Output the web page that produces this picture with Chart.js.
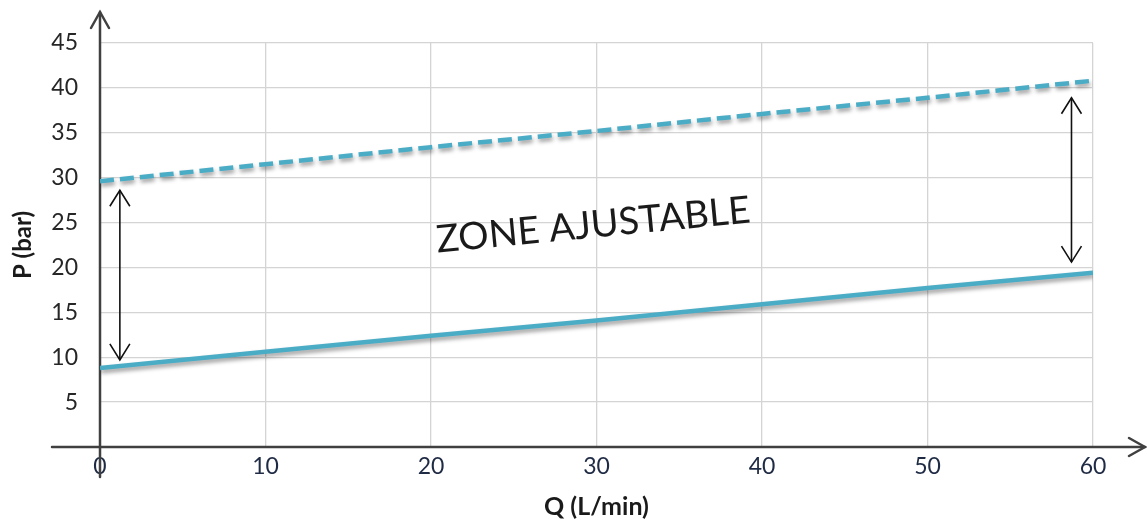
<!DOCTYPE html>
<html>
<head>
<meta charset="utf-8">
<script src="https://cdn.jsdelivr.net/npm/chart.js@4.4.0/dist/chart.umd.min.js"></script>
<style>
  html, body { margin: 0; padding: 0; background: #fff; }
  #wrap { width: 1147px; height: 522px; }
</style>
</head>
<body>
<div id="wrap"><canvas id="chart"></canvas></div>
<script>
// values
const flowValues = [0, 10, 20, 30, 40, 50, 60];
const minPressure = [8.8, 10.6, 12.4, 14.1, 15.9, 17.7, 19.4];
const maxPressure = [29.6, 31.5, 33.4, 35.2, 37.1, 38.9, 40.8];

// double arrows showing the adjustable range: [x, yBottom, yTop]
const rangeArrows = [[1.2, 9.7, 28.6], [58.7, 20.6, 38.9]];
const zoneLabel = "ZONE AJUSTABLE";
const zoneLabelPos = [29.8, 24.7];

const lineColor = "#4bacc6";
const axisColor = "#404040";
const fontFamily = "Lato, 'Open Sans', sans-serif";

function chevron(ctx, tx, ty, ax, ay, bx, by) {
    ctx.beginPath();
    ctx.moveTo(ax, ay);
    ctx.lineTo(tx, ty);
    ctx.lineTo(bx, by);
    ctx.stroke();
}

const axesPlugin = {
    id: "axesPlugin",
    beforeDatasetsDraw(chart) {
        const { ctx, scales: { x, y } } = chart;
        const x0 = x.getPixelForValue(0);
        const y0 = y.getPixelForValue(0);
        ctx.save();
        ctx.strokeStyle = axisColor;
        ctx.lineWidth = 2.5;
        ctx.lineCap = "round";
        // vertical axis, runs past the top with an arrow
        ctx.beginPath();
        ctx.moveTo(x0, y0 + 30);
        ctx.lineTo(x0, 12);
        ctx.stroke();
        chevron(ctx, x0, 12, x0 - 9, 28, x0 + 9, 28);
        // horizontal axis
        ctx.beginPath();
        ctx.moveTo(x0 - 48, y0);
        ctx.lineTo(chart.width - 2, y0);
        ctx.stroke();
        chevron(ctx, chart.width - 2, y0, chart.width - 18, y0 - 9, chart.width - 18, y0 + 9);
        ctx.restore();
    },
    beforeDatasetDraw(chart) {
        const ctx = chart.ctx;
        ctx.save();
        ctx.shadowColor = "rgba(0, 0, 0, 0.4)";
        ctx.shadowBlur = 4;
        ctx.shadowOffsetX = 1;
        ctx.shadowOffsetY = 3;
    },
    afterDatasetDraw(chart) {
        chart.ctx.restore();
    },
    afterDatasetsDraw(chart) {
        const { ctx, scales: { x, y } } = chart;
        ctx.save();
        ctx.strokeStyle = "#111";
        ctx.lineWidth = 1.6;
        rangeArrows.forEach(([ax, yb, yt]) => {
            const px = x.getPixelForValue(ax);
            const pb = y.getPixelForValue(yb);
            const pt = y.getPixelForValue(yt);
            ctx.beginPath();
            ctx.moveTo(px, pb);
            ctx.lineTo(px, pt);
            ctx.stroke();
            chevron(ctx, px, pt, px - 10, pt + 16, px + 10, pt + 16);
            chevron(ctx, px, pb, px - 10, pb - 16, px + 10, pb - 16);
        });

        // rotated zone label
        ctx.translate(x.getPixelForValue(zoneLabelPos[0]), y.getPixelForValue(zoneLabelPos[1]));
        ctx.rotate(-5.5 * Math.PI / 180);
        ctx.font = "38px " + fontFamily;
        ctx.fillStyle = "#1a1a1a";
        ctx.textAlign = "center";
        ctx.textBaseline = "middle";
        ctx.fillText(zoneLabel, 0, 0);
        ctx.restore();
    }
};

new Chart(document.getElementById("chart"), {
    type: "line",
    data: {
        labels: flowValues,
        datasets: [
            {
                label: "P max",
                data: flowValues.map((q, i) => ({ x: q, y: maxPressure[i] })),
                borderColor: lineColor,
                borderWidth: 4.5,
                borderDash: [14, 6],
                pointRadius: 0,
                tension: 0
            },
            {
                label: "P min",
                data: flowValues.map((q, i) => ({ x: q, y: minPressure[i] })),
                borderColor: lineColor,
                borderWidth: 4.5,
                pointRadius: 0,
                tension: 0
            }
        ]
    },
    options: {
        responsive: true,
        maintainAspectRatio: false,
        animation: false,
        layout: { padding: { top: 43, right: 54, left: 0, bottom: 0 } },
        plugins: {
            legend: { display: false },
            tooltip: { enabled: false }
        },
        scales: {
            x: {
                type: "linear",
                min: 0,
                max: 60,
                afterFit: (s) => { s.height = 75; },
                grid: { color: "#d4d4d4", lineWidth: 1.3, drawTicks: false },
                border: { display: false },
                ticks: {
                    stepSize: 10,
                    padding: 6,
                    color: "#1f2a44",
                    font: { family: fontFamily, size: 23 }
                },
                title: {
                    display: true,
                    text: "Q (L/min)",
                    color: "#1a1a1a",
                    font: { family: fontFamily, size: 25, weight: "bold" },
                    padding: { top: 0, bottom: 0 }
                }
            },
            y: {
                min: 0,
                max: 45,
                afterFit: (s) => { s.width = 100; },
                grid: { color: "#d4d4d4", lineWidth: 1.3, drawTicks: false },
                border: { display: false },
                ticks: {
                    stepSize: 5,
                    padding: 22,
                    color: "#262626",
                    font: { family: fontFamily, size: 23 },
                    callback: (v) => (v === 0 ? "" : v)
                },
                title: {
                    display: true,
                    text: "P (bar)",
                    color: "#1a1a1a",
                    font: { family: fontFamily, size: 24, weight: "bold" },
                    padding: { top: 9, bottom: 0 }
                }
            }
        }
    },
    plugins: [axesPlugin]
});
</script>
</body>
</html>
